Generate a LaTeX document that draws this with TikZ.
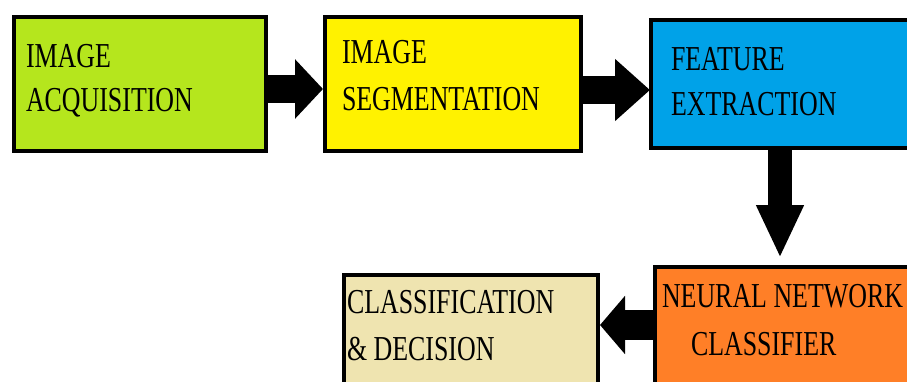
\documentclass[tikz,border=0pt]{standalone}
\usepackage{graphicx}
\usepackage{fontspec}
\setmainfont{Liberation Serif}
\usetikzlibrary{arrows.meta,calc}
\definecolor{cLime}{HTML}{B5E61D}
\definecolor{cYellow}{HTML}{FFF200}
\definecolor{cBlue}{HTML}{00A2E8}
\definecolor{cOrange}{HTML}{FF7F27}
\definecolor{cTan}{HTML}{EFE4B0}
\newcommand{\lbltext}[1]{\scalebox{0.74}[1]{\fontsize{35}{42}\selectfont #1}}
\begin{document}
\begin{tikzpicture}[x=1pt,y=-1pt,
  blk/.style={draw=black,line width=4pt,rectangle,inner sep=0pt,outer sep=0pt},
  txt/.style={anchor=base west,inner sep=0pt,outer sep=0pt,text=black},
  fat/.style n args={3}{draw=black,line width=#1,line cap=butt,-{Triangle[length=#2,width=#3]}}
]
\useasboundingbox (0,0) rectangle (907,381);
\clip (0,0) rectangle (907,381);
\fill[white] (0,0) rectangle (907,381);

% boxes
\node[blk,fill=cLime,minimum width=252pt,minimum height=134pt] (b1) at (140,84) {};
\node[blk,fill=cYellow,minimum width=256pt,minimum height=134pt] (b2) at (453,84) {};
\node[blk,fill=cBlue,minimum width=307pt,minimum height=128pt] (b3) at (804.5,84) {};
\node[blk,fill=cOrange,minimum width=303pt,minimum height=151pt] (b4) at (806.5,342.5) {};
\node[blk,fill=cTan,minimum width=254pt,minimum height=143pt] (b5) at (471,346.5) {};

% texts
\node[txt] (t1a) at (26,67) {\lbltext{IMAGE}};
\node[txt] (t1b) at (26,111) {\lbltext{ACQUISITION}};
\node[txt] (t2a) at (342,63) {\lbltext{IMAGE}};
\node[txt] (t2b) at (342,110) {\lbltext{SEGMENTATION}};
\node[txt] (t3a) at (671,70) {\lbltext{FEATURE}};
\node[txt] (t3b) at (671,115) {\lbltext{EXTRACTION}};
\node[txt] (t4a) at (662,307) {\lbltext{NEURAL NETWORK}};
\node[txt] (t4b) at (691,355) {\lbltext{CLASSIFIER}};
\node[txt] (t5a) at (347,313) {\lbltext{CLASSIFICATION}};
\node[txt] (t5b) at (347,360) {\lbltext{\& DECISION}};

% connectors
\draw[fat={28pt}{28pt}{58pt}] ($(b1.east)+(0,5)$) -- ($(b2.west)+(-2,5)$);
\draw[fat={28pt}{35pt}{60pt}] ($(b2.east)+(0,6)$) -- ($(b3.west)+(-1,6)$);
\draw[fat={24pt}{53pt}{44pt}] ($(b3.south west)+(129,0)$) -- ($(b4.north west)+(125,-9)$);
\draw[fat={30pt}{25pt}{57pt}] ($(b4.west)+(0,-17.5)$) -- ($(b5.east)+(2,-21.5)$);
\end{tikzpicture}
\end{document}
